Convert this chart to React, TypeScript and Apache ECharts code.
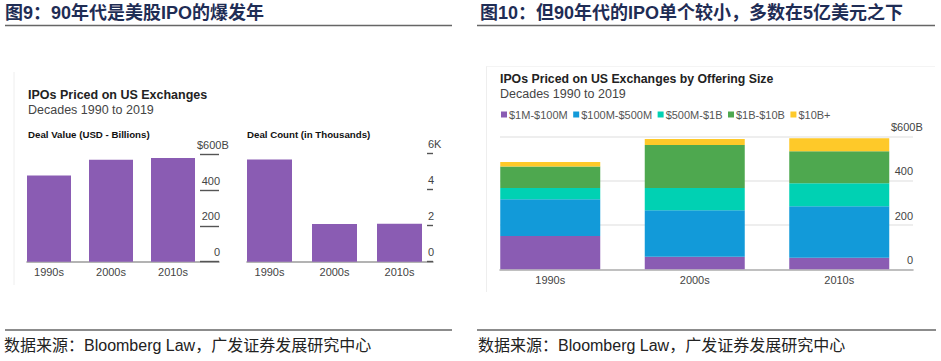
import React, { useEffect, useRef } from 'react';
import * as echarts from 'echarts';

// ---- data ----
const decades = ['1990s', '2000s', '2010s'];
const dealValueBillions = [482, 570, 581];
const dealCountThousands = [5.64, 2.08, 2.1];
const valueTickLabels = ['0', '200', '400', '$600B'];
const countTickLabels = ['0', '2', '4', '6K'];
const sizeBuckets = ['$1M-$100M', '$100M-$500M', '$500M-$1B', '$1B-$10B', '$10B+'];
const bucket1Mto100M = [151, 57, 52];
const bucket100Mto500M = [166, 210, 233];
const bucket500Mto1B = [51, 101, 104];
const bucket1Bto10B = [97, 195, 145];
const bucket10Bplus = [20, 27, 59];

const COLORS = ['#8a5cb3', '#129ad9', '#00d1b3', '#4ea84f', '#fec929'];
const PURPLE = '#8a5cb3';
const NAVY = '#1f2d55';
const LATIN = "'Liberation Sans', Arial, sans-serif";
const CJK = "'Liberation Sans', 'Noto Sans CJK SC', sans-serif";

export default function App() {
  const ref = useRef<HTMLDivElement>(null);

  useEffect(() => {
    if (!ref.current) return;
    const chart = echarts.init(ref.current, undefined, { renderer: 'svg' });

    const bucketData = [bucket1Mto100M, bucket100Mto500M, bucket500Mto1B, bucket1Bto10B, bucket10Bplus];

    const catAxis = (gridIndex: number) => ({
      gridIndex,
      type: 'category',
      data: decades,
      axisLine: { show: false },
      axisTick: { show: false },
      axisLabel: { fontSize: 11, color: '#444', margin: 5, fontFamily: LATIN },
    });
    const lineAxis = (gridIndex: number, color: string) => ({
      gridIndex,
      type: 'value',
      min: 0,
      max: 1,
      axisLine: { show: true, onZero: false, lineStyle: { color, width: 1.6 } },
      axisTick: { show: false },
      axisLabel: { show: false },
      splitLine: { show: false },
    });
    const hiddenY = (gridIndex: number, max: number) => ({
      gridIndex, type: 'value', min: 0, max, show: false,
    });

    const option: any = {
      animation: false,
      grid: [
        { left: 18, top: 154.5, width: 186, height: 107.2 },
        { left: 27, top: 154.5, width: 192, height: 107.2 },
        { left: 237, top: 153, width: 195, height: 108.7 },
        { left: 247, top: 153, width: 186, height: 108.7 },
        { left: 478, top: 136.7, width: 433.5, height: 132.6 },
        { left: 500, top: 136.7, width: 413, height: 132.6 },
      ],
      legend: {
        data: sizeBuckets,
        left: 496,
        top: 104,
        icon: 'rect',
        itemWidth: 6,
        itemHeight: 6,
        itemGap: 5.5,
        textStyle: { fontSize: 11, color: '#555', fontFamily: LATIN, padding: [0, 0, 0, -3] },
      },
      xAxis: [
        catAxis(0),
        lineAxis(1, '#9a9a9a'),
        catAxis(2),
        lineAxis(3, '#9a9a9a'),
        catAxis(4),
        lineAxis(5, '#b0b0b0'),
      ],
      yAxis: [
        hiddenY(0, 600),
        {
          gridIndex: 1, type: 'value', min: 0, max: 600, interval: 200, position: 'right',
          axisLine: { show: false, onZero: false },
          axisTick: { show: true, inside: true, length: 19, lineStyle: { color: '#555', width: 1.4 } },
          splitLine: { show: false },
          axisLabel: {
            fontSize: 11, color: '#444', fontFamily: LATIN, align: 'right', margin: 1,
            verticalAlign: 'bottom', padding: [0, 0, 4, 0],
            formatter: (v: number) => {
              const i = Math.round(v / 200);
              return i === valueTickLabels.length - 1 ? `{t|${valueTickLabels[i]}}` : valueTickLabels[i];
            },
            rich: { t: { width: 23, align: 'left', fontSize: 11, color: '#444', fontFamily: LATIN } },
          },
        },
        hiddenY(2, 6),
        {
          gridIndex: 3, type: 'value', min: 0, max: 6, interval: 2, position: 'right',
          axisLine: { show: false, onZero: false },
          axisTick: { show: true, inside: true, length: 6, lineStyle: { color: '#555', width: 1.4 } },
          splitLine: { show: false },
          axisLabel: {
            fontSize: 11, color: '#444', fontFamily: LATIN, align: 'left', margin: -5,
            verticalAlign: 'bottom', padding: [0, 0, 4, 0],
            formatter: (v: number) => countTickLabels[Math.round(v / 2)],
          },
        },
        hiddenY(4, 600),
        {
          gridIndex: 5, type: 'value', min: 0, max: 600, interval: 200, position: 'right',
          axisLine: { show: false, onZero: false },
          axisTick: { show: false },
          splitLine: { show: true, lineStyle: { color: '#e8e8e8', width: 1.5 } },
          axisLabel: {
            fontSize: 11, color: '#444', fontFamily: LATIN, align: 'right', margin: 0,
            verticalAlign: 'bottom', padding: [0, 0, 4, 0],
            formatter: (v: number) => {
              const i = Math.round(v / 200);
              return i === valueTickLabels.length - 1 ? `{t|${valueTickLabels[i]}}` : valueTickLabels[i];
            },
            rich: { t: { width: 22, align: 'left', fontSize: 11, color: '#444', fontFamily: LATIN } },
          },
        },
      ],
      series: [
        {
          type: 'bar', xAxisIndex: 0, yAxisIndex: 0, data: dealValueBillions,
          barWidth: 44, itemStyle: { color: PURPLE },
        },
        {
          type: 'bar', xAxisIndex: 2, yAxisIndex: 2, data: dealCountThousands,
          barWidth: 45, itemStyle: { color: PURPLE },
        },
        ...sizeBuckets.map((name, i) => ({
          name,
          type: 'bar',
          stack: 'size',
          xAxisIndex: 4,
          yAxisIndex: 4,
          data: bucketData[i],
          barWidth: 100,
          itemStyle: { color: COLORS[i] },
        })),
      ],
      graphic: [
        // panel titles
        { type: 'text', x: 5, y: 13, style: { text: '图9：90年代是美股IPO的爆发年', font: `bold 18px ${CJK}`, fill: NAVY, verticalAlign: 'middle' } },
        { type: 'text', x: 480, y: 13, style: { text: '图10：但90年代的IPO单个较小，多数在5亿美元之下', font: `bold 18px ${CJK}`, fill: NAVY, verticalAlign: 'middle' } },
        { type: 'line', shape: { x1: 5, y1: 25.5, x2: 452, y2: 25.5 }, style: { stroke: '#666', lineWidth: 1.6 } },
        { type: 'line', shape: { x1: 477, y1: 25.5, x2: 935, y2: 25.5 }, style: { stroke: '#666', lineWidth: 1.6 } },
        // image frames
        { type: 'line', shape: { x1: 14, y1: 72, x2: 14, y2: 285 }, style: { stroke: '#eeeeee', lineWidth: 1 } },
        { type: 'line', shape: { x1: 486.5, y1: 66, x2: 486.5, y2: 292 }, style: { stroke: '#eeeeee', lineWidth: 1 } },
        { type: 'line', shape: { x1: 486.5, y1: 66.5, x2: 935, y2: 66.5 }, style: { stroke: '#f4f4f4', lineWidth: 1 } },
        // left chart texts
        { type: 'text', x: 28, y: 95, style: { text: 'IPOs Priced on US Exchanges', font: `bold 12.5px ${LATIN}`, fill: '#222', verticalAlign: 'middle' } },
        { type: 'text', x: 28, y: 110, style: { text: 'Decades 1990 to 2019', font: `12.5px ${LATIN}`, fill: '#444', verticalAlign: 'middle' } },
        { type: 'text', x: 28, y: 134, style: { text: 'Deal Value (USD - Billions)', font: `bold 9.7px ${LATIN}`, fill: '#111', verticalAlign: 'middle' } },
        { type: 'text', x: 247, y: 134, style: { text: 'Deal Count (in Thousands)', font: `bold 9.7px ${LATIN}`, fill: '#111', verticalAlign: 'middle' } },
        // right chart texts
        { type: 'text', x: 500, y: 79, style: { text: 'IPOs Priced on US Exchanges by Offering Size', font: `bold 12.3px ${LATIN}`, fill: '#222', verticalAlign: 'middle' } },
        { type: 'text', x: 500, y: 94, style: { text: 'Decades 1990 to 2019', font: `12.5px ${LATIN}`, fill: '#444', verticalAlign: 'middle' } },
        // footers
        { type: 'line', shape: { x1: 5, y1: 330, x2: 452, y2: 330 }, style: { stroke: '#666', lineWidth: 1.6 } },
        { type: 'line', shape: { x1: 477, y1: 330, x2: 936, y2: 330 }, style: { stroke: '#666', lineWidth: 1.6 } },
        { type: 'text', x: 4, y: 345.5, style: { text: '数据来源：Bloomberg Law，广发证券发展研究中心', font: `16px ${CJK}`, fill: '#222', verticalAlign: 'middle' } },
        { type: 'text', x: 478, y: 345.5, style: { text: '数据来源：Bloomberg Law，广发证券发展研究中心', font: `16px ${CJK}`, fill: '#222', verticalAlign: 'middle' } },
      ],
    };

    chart.setOption(option);
    return () => chart.dispose();
  }, []);

  return (
    <div
      ref={ref}
      style={{ position: 'absolute', left: 0, top: 0, width: 941, height: 361, background: '#fff' }}
    />
  );
}
